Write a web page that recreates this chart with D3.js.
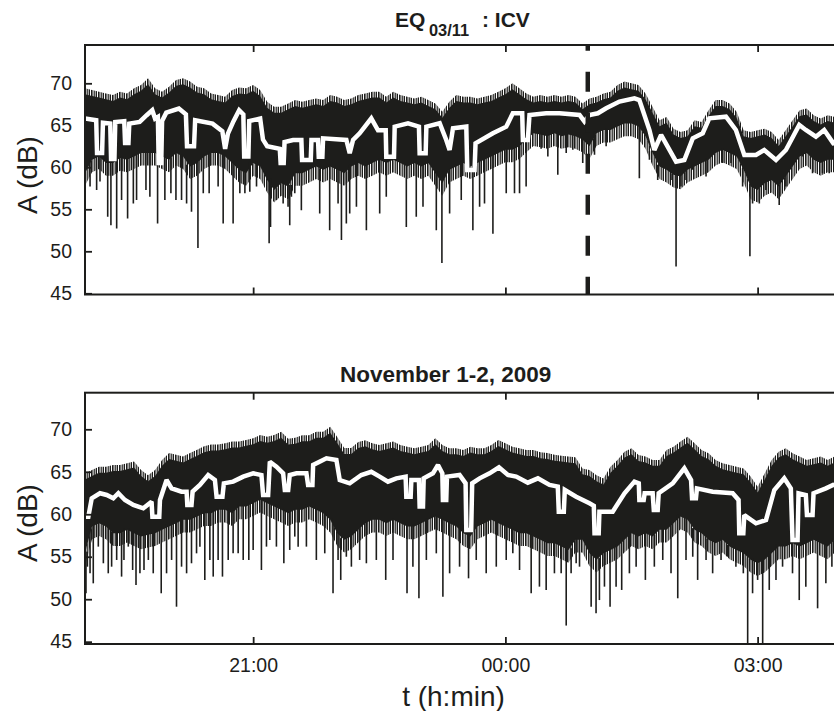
<!DOCTYPE html>
<html><head><meta charset="utf-8">
<script src="https://cdn.jsdelivr.net/npm/d3@7"></script>
<style>
body{margin:0;background:#fff;}
svg{display:block;}
text{font-family:"Liberation Sans",Arial,Helvetica,sans-serif;fill:#1d1d1b;}
</style>
</head><body>
<svg id="chart" width="834" height="711"></svg>
<script>
// ---- data (minutes after 19:00) ----
const sampleMinutes = [0,5,10,15,20,25,30,35,40,45,50,55,60,65,70,75,80,85,90,95,
100,105,110,115,120,125,130,135,140,145,150,155,160,165,170,175,180,185,190,195,
200,205,210,215,220,225,230,235,240,245,250,255,260,265,270,275,280,285,290,295,
300,305,310,315,320,325,330,335,340,345,350,355,360,365,370,375,380,385,390,395,
400,405,410,415,420,425,430,435,440,445,450,455,460,465,470,475,480,485,490,495,
500,505,510,515,520,525,530,535];

const xTickMinutes = [120, 300, 480];
const xTickLabels = ["21:00", "00:00", "03:00"];
const yTicks = [45, 50, 55, 60, 65, 70];
const eventMinute = 358.8;

// top panel: EQ 03/11 : ICV
const topUpper = [69.4,69.2,69.0,68.8,68.6,69.0,68.8,69.4,69.8,70.6,
69.4,69.0,69.6,70.4,70.6,70.2,69.6,69.4,68.8,68.6,
68.4,69.2,69.5,69.4,69.8,69.2,67.8,67.2,67.2,67.6,
68.0,67.8,68.0,68.2,68.0,68.6,68.4,68.0,68.2,68.6,
68.8,69.0,69.0,68.4,69.0,68.6,68.4,68.2,68.4,68.0,
67.6,66.6,67.8,68.6,68.4,68.4,68.2,68.4,68.6,69.0,
69.4,70.0,69.4,68.8,68.4,68.6,68.4,68.6,68.4,68.6,
68.4,67.6,68.2,68.4,68.8,69.0,69.8,70.2,70.0,69.8,
68.8,67.2,65.6,66.0,64.6,64.2,64.4,65.6,65.4,66.8,
68.0,68.0,67.6,66.6,64.4,64.2,64.4,64.6,64.2,63.25,
64.4,65.6,66.8,67.0,66.2,65.8,66.2,66.0];
const topLower = [58.5,60.1,60.5,59.7,59.7,60.3,60.1,60.5,60.9,60.9,
60.9,60.5,60.1,60.9,60.5,59.3,59.7,60.5,60.9,60.9,
60.5,59.7,58.9,58.5,59.7,59.3,57.7,56.5,57.3,56.9,
58.5,58.5,58.9,59.3,58.9,59.3,58.9,58.5,59.3,59.7,
59.3,59.7,60.1,59.7,60.1,59.7,59.3,59.7,59.3,59.7,
58.5,57.3,58.9,59.3,59.7,59.3,59.7,60.1,60.5,60.9,
61.3,61.3,61.7,62.5,63.25,63.1,62.9,63.25,62.9,63.1,
62.9,62.5,61.7,63.25,63.65,63.65,64.05,64.4,64.4,64.05,
62.9,60.9,59.3,58.9,58.3,58.1,58.9,59.3,59.7,60.1,
60.9,61.3,60.9,60.5,58.9,56.9,56.5,57.3,57.7,56.9,
58.1,59.3,60.5,60.9,60.1,59.7,60.1,60.1];
const topSpikes = [[3.6,57.7],[8.3,57.3],[10.7,58.3],[16.2,54.1],[18.5,53.1],[22.6,52.7],[26.1,56.1],[30.4,53.9],
[34.5,55.7],[36.8,56.1],[43.5,57.3],[46.3,56.5],[51.8,53.3],[57.0,56.1],[61.3,56.9],[64.9,56.1],[68.9,56.1],
[72.5,55.7],[76.0,54.7],[80.6,50.4],[84.4,56.9],[88.6,56.9],[95.0,57.7],[98.6,53.3],[105.7,53.3],[110.5,56.9],
[114.1,56.9],[117.6,57.1],[122.4,57.7],[131.4,50.95],[132.4,52.9],[136.6,56.1],[141.4,55.7],[144.9,55.3],
[146.1,53.1],[147.3,56.5],[149.7,56.9],[154.4,54.9],[167.5,54.5],[174.6,52.5],[180.6,55.7],[183.0,51.35],
[186.5,53.3],[188.9,54.5],[193.7,55.3],[200.8,52.5],[210.3,54.5],[215.0,56.5],[229.3,52.9],[236.4,54.1],
[241.2,55.3],[250.7,52.5],[254.7,48.6],[260.2,54.5],[268.5,56.1],[276.8,52.5],[281.6,55.3],[285.1,55.7],
[291.1,52.1],[300.6,56.9],[306.5,56.9],[310.1,56.9],[314.8,57.7],[325.5,62.2],[330.3,61.3],[337.4,59.1],
[343.4,61.7],[348.1,62.1],[355.2,60.5],[363.6,61.5],[371.9,62.5],[395.6,58.7],[402.8,60.9],[408.7,58.5],
[412.3,60.1],[418.2,58.5],[421.8,48.2],[425.3,57.7],[428.9,58.5],[433.7,59.7],[443.2,58.9],[455.0,60.5],
[461.0,60.5],[469.3,57.7],[474.5,49.4],[476.4,55.7],[481.2,55.7],[485.9,57.3],[495.4,55.5],[500.2,57.7],
[512.1,61.3],[519.2,59.3],[526.3,59.3],[531.1,59.3]];
const topSmooth = [[0,65.8],[8,65.6],[8.6,61.7],[12.2,61.7],[12.8,65.3],[18,65.2],[18.6,61.0],[21,61.0],
[21.6,65.4],[28,65.5],[28.6,62.9],[31,62.9],[31.6,65.2],[39,65.4],[44,66.2],[48,66.8],[50,65.8],[52,66.0],
[52.6,60.5],[54.4,60.5],[55,65.5],[58,66.5],[67,67.0],[72,66.3],[72.8,62.5],[77.8,62.5],[78.6,65.6],[91,65.2],
[98,64.3],[100,62.2],[102,64.0],[106,65.5],[110,66.8],[113,66.3],[113.6,61.3],[116.6,61.3],[117.2,65.5],
[125,65.8],[127,63.3],[130,62.5],[139,62.2],[139.6,60.5],[141.8,60.5],[142.4,63.0],[148.5,63.25],
[154.4,63.25],[154.9,60.87],[161.1,60.87],[161.6,63.25],[166.3,63.25],[166.8,61.27],[169.4,61.27],
[169.9,63.45],[186.5,63.25],[188.9,61.67],[191.3,63.25],[196,64.05],[204.3,65.83],[209.1,64.4],[214.6,64.4],
[215.0,61.27],[220.5,61.27],[221,64.84],[230.5,65.24],[238.3,64.84],[238.8,61.67],[243.1,61.67],[243.6,64.84],
[253.1,65.24],[257.8,63.25],[260.2,62.06],[262.6,64.64],[272.1,64.84],[272.8,59.68],[278,59.68],[278.7,62.86],
[291.1,64.05],[300.6,64.84],[305.3,66.43],[312,66.43],[312.5,63.25],[316,63.25],[317.2,66.23],[329.1,66.43],
[338.6,66.43],[352.9,66.23],[356.4,65.44],[360,66.23],[366,66.43],[371.9,67.02],[381.4,67.82],[392.1,68.21],
[395.6,68.0],[402.8,64.44],[406.3,62.06],[411.1,63.85],[415.8,62.46],[421.8,60.67],[427.7,60.87],[433.7,63.45],
[440.8,64.05],[445.5,65.83],[457.4,66.03],[464.5,64.44],[470.5,61.47],[478.8,61.47],[484.7,62.06],[493.1,60.87],
[500.2,62.06],[509.7,65.04],[514.4,64.44],[521.6,63.65],[527.5,64.44],[534,62.86],[540,63.0]];

// bottom panel: November 1-2, 2009
const botUpper = [64.8,65.2,65.6,65.6,65.8,65.8,66.0,66.2,65.2,64.6,
65.2,66.4,67.2,67.0,66.8,67.2,67.6,68.0,68.2,68.2,
68.35,68.55,68.55,68.75,68.94,69.33,69.13,69.33,69.72,68.9,
69.0,69.3,69.3,69.7,69.7,70.3,69.1,67.8,67.8,68.5,
68.7,68.35,68.15,68.35,68.55,68.15,67.96,67.76,67.96,68.15,
68.94,68.15,67.76,67.76,67.56,67.96,67.76,67.76,68.15,68.74,
68.35,67.96,67.76,67.56,67.56,67.3,67.2,67.0,66.9,66.8,
66.7,65.4,65.2,64.6,64.2,65.6,66.4,67.37,67.76,66.98,
66.8,66.4,66.4,67.56,67.96,68.55,69.13,68.35,67.56,67.17,
66.4,66.0,65.8,65.6,65.4,64.43,63.25,64.8,66.4,67.37,
67.76,67.17,66.8,66.4,66.6,66.8,66.4,66.8];
const botLower = [54.6,57.76,58.15,57.76,56.97,56.97,57.37,56.97,56.58,56.78,
56.97,57.37,57.76,58.15,58.54,58.54,58.94,59.33,59.33,59.72,
59.72,59.33,60.11,60.11,60.5,60.9,60.5,60.11,59.72,59.33,
59.72,59.72,60.11,59.72,59.33,58.54,56.97,56.19,56.58,57.37,
58.15,58.54,58.54,58.15,58.54,58.15,57.76,57.76,58.15,58.54,
58.94,58.54,58.15,57.76,56.97,56.58,57.76,58.15,58.54,58.15,
57.76,57.37,56.97,56.97,56.58,56.19,55.8,55.8,55.4,55.0,
56.19,56.19,54.62,53.84,54.62,55.0,55.4,56.19,56.97,56.58,
56.97,56.58,57.37,57.37,58.15,58.94,58.54,57.37,56.97,56.19,
55.8,56.19,55.4,55.0,54.62,53.84,53.44,53.84,54.62,55.4,
55.4,55.8,55.4,55.8,56.19,55.8,55.4,56.19];
const botSpikes = [[0.7,50.7],[1.7,53.83],[3.6,53.05],[5.9,51.87],[9.5,56.19],[13.1,54.23],[16.6,53.05],
[19.0,53.83],[22.6,54.62],[26.1,52.66],[27.8,54.62],[30.9,56.19],[34.0,53.44],[36.4,51.68],[39.2,53.05],
[42.1,53.44],[45.2,54.62],[48.7,53.05],[54.4,50.7],[58.2,53.05],[61.8,54.62],[65.3,49.12],[68.9,53.83],
[72.5,53.05],[76.0,54.23],[79.6,55.4],[82.0,56.19],[85.5,52.27],[89.1,54.62],[91.5,52.66],[95.0,54.62],
[98.1,52.66],[102.2,54.62],[105.7,55.4],[109.3,55.4],[112.9,54.62],[116.9,54.62],[120.0,55.8],[125.9,53.44],
[129.5,56.19],[131.9,56.97],[136.6,56.19],[141.9,54.23],[146.1,55.8],[149.7,57.37],[152.1,56.19],[158.0,56.19],
[165.1,54.62],[171.1,55.4],[177.0,50.7],[180.6,54.62],[182.5,52.27],[186.5,55.0],[190.1,53.83],[196.0,54.62],
[200.8,54.23],[207.9,54.62],[214.6,52.27],[219.8,54.62],[229.8,50.7],[234.0,53.83],[238.3,50.11],[243.6,54.62],
[250.7,55.4],[255.4,50.3],[260.2,53.05],[267.3,53.83],[273.7,52.46],[279.2,54.62],[286.3,53.05],[293.5,53.83],
[300.6,54.62],[305.3,55.4],[310.1,53.44],[318.4,50.7],[324.3,51.48],[329.1,51.09],[335.0,53.05],[339.8,53.05],
[343.4,46.9],[346.9,53.05],[350.5,54.23],[352.9,53.83],[361.2,49.12],[364.7,48.34],[367.1,49.9],[370.7,51.48],
[374.7,49.12],[379.0,51.48],[383.0,51.09],[388.5,53.05],[393.3,53.83],[399.9,52.27],[406.3,53.83],[412.3,54.62],
[418.2,53.05],[423.0,50.11],[428.9,54.62],[433.7,55.0],[437.2,52.27],[443.2,54.62],[447.9,53.05],[453.9,54.62],
[458.6,55.0],[464.5,53.83],[469.8,53.05],[472.9,44.0],[476.4,50.7],[480.0,52.27],[483.6,44.0],[488.3,51.09],
[493.1,52.27],[497.8,53.83],[504.9,53.05],[509.7,49.9],[514.4,51.48],[522.8,48.93],[528.7,51.87],[533.0,53.83]];
const botSmooth = [[0,59.72],[2.4,59.72],[4.8,61.88],[10.7,62.47],[15.5,62.27],[20.2,61.88],[23.8,62.47],
[28.5,61.68],[34.5,61.09],[41.6,60.7],[47.5,61.48],[48.1,59.72],[53,59.72],[53.5,61.68],[58.2,64.03],
[61.8,63.05],[68.9,62.66],[72.5,62.66],[73,61.09],[76,61.09],[76.8,62.66],[82,63.45],[87.9,64.62],[92.7,64.03],
[93.9,62.07],[98.1,62.07],[99.1,63.64],[105.7,63.84],[112.9,64.43],[120,64.82],[125.9,64.62],[127.1,62.27],
[130.7,62.27],[131.9,66.19],[136.6,65.6],[141.4,64.82],[142.6,62.86],[145,62.86],[146.1,64.62],[150.9,64.82],
[158,64.82],[159.2,63.45],[162.3,63.45],[162.8,65.8],[172.3,66.58],[179.4,66.39],[181.8,64.03],[188.9,63.64],
[197.2,64.62],[204.3,65.0],[210.3,64.43],[216.2,63.84],[222.2,64.23],[228.8,64.43],[229.3,62.07],[232.4,62.07],
[232.9,64.03],[238.3,64.03],[238.8,60.9],[241.2,60.9],[241.7,64.23],[248.3,64.82],[251.9,65.8],[255,64.82],
[255.4,61.68],[257.8,61.68],[258.3,64.43],[267.3,64.62],[271.6,63.64],[272.1,58.15],[275.6,58.15],[276.3,63.64],
[281.6,64.23],[288.7,64.82],[295.4,65.53],[301.8,64.62],[307.7,64.43],[316,63.72],[323.2,64.23],[331.5,63.45],
[337.4,63.25],[338.1,60.31],[341.7,60.31],[342.4,62.86],[350.5,62.07],[360,61.29],[363.1,61.0],[363.6,57.76],
[366.6,57.76],[367.1,60.31],[376.6,60.31],[385,62.47],[392.1,63.84],[395.2,63.64],[395.6,61.68],[398.7,61.68],
[399.4,62.47],[405.1,62.47],[405.9,60.5],[408.7,60.5],[409.4,62.47],[419.4,63.64],[427.7,65.41],[432.5,64.03],
[433.2,61.88],[436,61.88],[436.7,63.05],[447.9,62.66],[462.2,62.47],[466.4,61.68],[466.9,57.76],[469.8,57.76],
[470.5,59.9],[478.8,58.93],[486,59.33],[491.9,62.86],[499,64.23],[503.7,63.05],[504.9,56.97],[508.5,56.97],
[509.2,62.47],[514.4,62.27],[515.2,59.9],[519.2,59.9],[519.9,62.47],[528.7,63.05],[534,63.45],[540,63.3]];

// ---- layout ----
const INK = "#1d1d1b";
const svg = d3.select("#chart");
const x = d3.scaleLinear().domain([0, 540]).range([85, 841.7]);

// comb texture used for the ragged fringes of the noise band
const defs = svg.append("defs");
const comb = defs.append("pattern").attr("id", "comb").attr("patternUnits", "userSpaceOnUse")
  .attr("width", 7).attr("height", 20);
comb.append("rect").attr("x", 0).attr("y", 0).attr("width", 1.6).attr("height", 20).attr("fill", INK);
comb.append("rect").attr("x", 2.6).attr("y", 0).attr("width", 1.2).attr("height", 20).attr("fill", INK);
comb.append("rect").attr("x", 4.6).attr("y", 0).attr("width", 1.4).attr("height", 20).attr("fill", INK);

const panels = [
  {id:"p1", upper: topUpper, lower: topLower, spikes: topSpikes, smooth: topSmooth,
   top: 45, bottom: 294.5, y70: 83.3, y45: 293.3, labelY: 175, xLabels: false, event: true},
  {id:"p2", upper: botUpper, lower: botLower, spikes: botSpikes, smooth: botSmooth,
   top: 392.7, bottom: 644, y70: 429.3, y45: 641.7, labelY: 523, xLabels: true, event: false}
];

panels.forEach(p => {
  const y = d3.scaleLinear().domain([45, 70]).range([p.y45, p.y70]);
  const g = svg.append("g");
  g.append("clipPath").attr("id", "clip-" + p.id).append("rect")
    .attr("x", x.range()[0]).attr("y", p.top)
    .attr("width", x.range()[1] - x.range()[0]).attr("height", p.bottom - p.top);
  const plot = g.append("g").attr("clip-path", `url(#clip-${p.id})`);

  const xi = (d, i) => x(sampleMinutes[i]);
  // ragged top fringe
  plot.append("path").datum(p.upper)
    .attr("d", d3.area().x(xi).y0((d, i) => y(p.upper[i] - 0.8)).y1((d, i) => y(p.upper[i])))
    .attr("fill", "url(#comb)");
  // ragged bottom fringe
  plot.append("path").datum(p.lower)
    .attr("d", d3.area().x(xi).y0((d, i) => y(p.lower[i] - 0.7)).y1((d, i) => y(p.lower[i] + 0.9)))
    .attr("fill", "url(#comb)");
  // dense noise body
  plot.append("path").datum(p.upper)
    .attr("d", d3.area().x(xi).y0((d, i) => y(p.lower[i] + 0.8)).y1((d, i) => y(p.upper[i] - 0.7)))
    .attr("fill", INK);

  // downward spikes
  plot.selectAll("line.spike").data(p.spikes).join("line").attr("class", "spike")
    .attr("x1", d => x(d[0])).attr("x2", d => x(d[0]))
    .attr("y1", d => y(d[1]))
    .attr("y2", d => y(p.lower[d3.bisectCenter(sampleMinutes, d[0])] + 1.0))
    .attr("stroke", INK).attr("stroke-width", 1.6);

  // smoothed curve
  const line = d3.line().x(d => x(d[0])).y(d => y(d[1]));
  plot.append("path").datum(p.smooth).attr("d", line)
    .attr("fill", "none").attr("stroke", "#ffffff").attr("stroke-width", 4.5)
    .attr("stroke-linejoin", "miter").attr("stroke-miterlimit", 2);

  // event marker
  if (p.event) {
    plot.append("line")
      .attr("x1", x(eventMinute)).attr("x2", x(eventMinute))
      .attr("y1", p.top).attr("y2", p.bottom)
      .attr("stroke", INK).attr("stroke-width", 4.5)
      .attr("stroke-dasharray", "20,21").attr("stroke-dashoffset", 14.3);
  }

  // axes (ticks pointing inward)
  const styleAxis = sel => {
    sel.select(".domain").remove();
    sel.selectAll(".tick line").attr("stroke", INK).attr("stroke-width", 1.8);
    sel.selectAll(".tick text").attr("fill", INK)
      .style("font-family", '"Liberation Sans", Arial, sans-serif').style("font-size", "19.5px");
  };
  g.append("g").attr("transform", `translate(${x.range()[0]},0)`)
    .call(d3.axisLeft(y).tickValues(yTicks).tickSize(-7).tickPadding(13).tickFormat(d3.format("d")))
    .call(styleAxis);
  g.append("g").attr("transform", `translate(${x.range()[1]},0)`)
    .call(d3.axisRight(y).tickValues(yTicks).tickSize(-7).tickFormat(""))
    .call(styleAxis);
  g.append("g").attr("transform", `translate(0,${p.top})`)
    .call(d3.axisTop(x).tickValues(xTickMinutes).tickSize(-7).tickFormat(""))
    .call(styleAxis);
  g.append("g").attr("transform", `translate(0,${p.bottom})`)
    .call(d3.axisBottom(x).tickValues(xTickMinutes).tickSize(-7).tickPadding(14)
      .tickFormat((d, i) => p.xLabels ? xTickLabels[i] : ""))
    .call(styleAxis);

  // frame
  g.append("rect").attr("x", x.range()[0]).attr("y", p.top)
    .attr("width", x.range()[1] - x.range()[0]).attr("height", p.bottom - p.top)
    .attr("fill", "none").attr("stroke", INK).attr("stroke-width", 2);

  // y label
  g.append("text").attr("transform", `translate(37,${p.labelY}) rotate(-90)`)
    .attr("text-anchor", "middle").style("font-size", "28px").text("A (dB)");
});

// titles
const t1 = svg.append("text").style("font-weight", "bold");
t1.append("tspan").attr("x", 395).attr("y", 26.7).style("font-size", "21px").text("EQ");
t1.append("tspan").attr("x", 429).attr("y", 36).style("font-size", "16.4px").text("03/11");
t1.append("tspan").attr("x", 482).attr("y", 26.7).style("font-size", "21px").text(": ICV");

svg.append("text").attr("x", 340).attr("y", 381.7)
  .style("font-weight", "bold").style("font-size", "22.5px").text("November 1-2, 2009");

svg.append("text").attr("x", 453.5).attr("y", 706).attr("text-anchor", "middle")
  .style("font-size", "28px").text("t (h:min)");
</script>
</body></html>
